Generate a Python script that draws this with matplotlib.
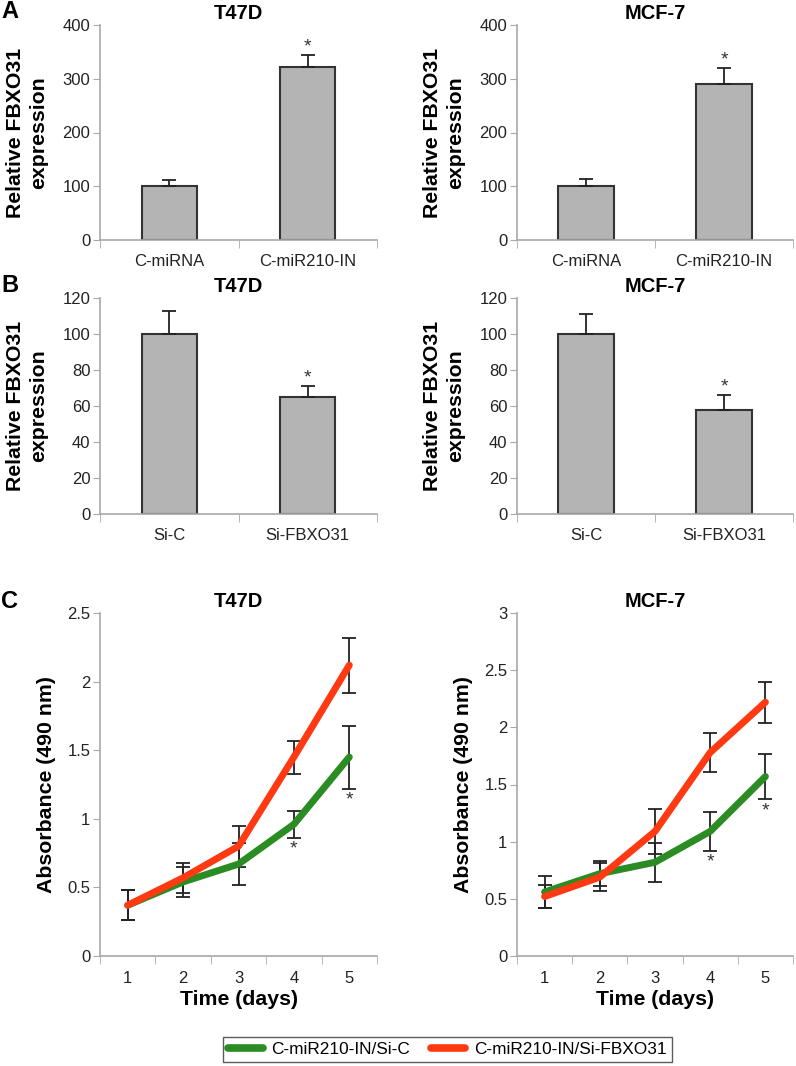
import matplotlib
matplotlib.use("Agg")
import matplotlib.pyplot as plt
from matplotlib.lines import Line2D

plt.rcParams['font.family'] = ['Liberation Sans', 'DejaVu Sans']

W, H = 796, 1066

# ---------- data ----------
cell_lines = ["T47D", "MCF-7"]

a_categories = ["C-miRNA", "C-miR210-IN"]
a_values_t47d = [100, 322]
a_err_t47d = [12, 22]
a_values_mcf7 = [100, 290]
a_err_mcf7 = [14, 30]

b_categories = ["Si-C", "Si-FBXO31"]
b_values_t47d = [100, 65]
b_err_t47d = [13, 6]
b_values_mcf7 = [100, 58]
b_err_mcf7 = [11, 8]

days = [1, 2, 3, 4, 5]
c_t47d_sic = [0.37, 0.54, 0.67, 0.96, 1.45]
c_t47d_sic_err = [0.11, 0.11, 0.15, 0.10, 0.23]
c_t47d_sif = [0.37, 0.57, 0.80, 1.45, 2.12]
c_t47d_sif_err = [0.11, 0.11, 0.15, 0.12, 0.20]
c_mcf7_sic = [0.56, 0.72, 0.82, 1.09, 1.57]
c_mcf7_sic_err = [0.14, 0.11, 0.17, 0.17, 0.20]
c_mcf7_sif = [0.52, 0.69, 1.09, 1.78, 2.22]
c_mcf7_sif_err = [0.10, 0.12, 0.20, 0.17, 0.18]

series_labels = ["C-miR210-IN/Si-C", "C-miR210-IN/Si-FBXO31"]
green = "#2a8c22"
red = "#ff3a12"

spine_col = "#a8a8a8"
bar_col = "#b4b4b4"
err_col = "#222222"

TICK_FS = 12
TITLE_FS = 14.5
LABEL_FS = 15.3
STAR_FS = 14

fig = plt.figure(figsize=(W / 100, H / 100), dpi=100)


def rect(left, top, right, bottom):
    return [left / W, 1 - bottom / H, (right - left) / W, (bottom - top) / H]


def style_axes(ax):
    for s in ["top", "right"]:
        ax.spines[s].set_visible(False)
    for s in ["left", "bottom"]:
        ax.spines[s].set_color(spine_col)
        ax.spines[s].set_linewidth(1.2)
    ax.tick_params(axis="y", which="both", length=5, color=spine_col,
                   labelsize=TICK_FS, labelcolor="#222222", pad=2)


def bar_panel(ax, cats, vals, errs, title, ylim, yticks):
    style_axes(ax)
    xs = [0.5 + i for i in range(len(cats))]
    ax.bar(xs, vals, width=0.4, color=bar_col, edgecolor="#333333",
           linewidth=1.5, zorder=2)
    ax.errorbar(xs, vals, yerr=[[0] * len(errs), errs], fmt="none",
                ecolor=err_col, elinewidth=1.3, capsize=5, capthick=1.3,
                zorder=3)
    ax.set_xlim(0, len(cats))
    ax.set_ylim(*ylim)
    ax.set_yticks(yticks)
    ax.set_xticks(xs)
    ax.set_xticklabels(cats)
    ax.set_xticks(range(len(cats) + 1), minor=True)
    ax.tick_params(axis="x", which="major", length=0, labelsize=TICK_FS,
                   labelcolor="#222222", pad=10)
    ax.tick_params(axis="x", which="minor", length=6, color=spine_col)
    ax.set_title(title, fontsize=TITLE_FS, fontweight="bold", pad=4)
    ax.set_ylabel("Relative FBXO31\nexpression", fontsize=LABEL_FS,
                  fontweight="bold", labelpad=10, linespacing=1.3)
    ax.annotate("*", xy=(xs[1], vals[1] + errs[1]), xytext=(0, 0),
                textcoords="offset points", ha="center", va="bottom",
                fontsize=STAR_FS, color="#333333")


def line_panel(ax, sic, sic_err, sif, sif_err, title, ylim, yticks, yticklabels):
    style_axes(ax)
    ax.errorbar(days, sic, yerr=sic_err, fmt="none", ecolor=err_col,
                elinewidth=1.3, capsize=5, capthick=1.3, zorder=2)
    ax.errorbar(days, sif, yerr=sif_err, fmt="none", ecolor=err_col,
                elinewidth=1.3, capsize=5, capthick=1.3, zorder=2)
    ax.plot(days, sic, color=green, lw=5, solid_capstyle="round",
            solid_joinstyle="round", zorder=3)
    ax.plot(days, sif, color=red, lw=5, solid_capstyle="round",
            solid_joinstyle="round", zorder=4)
    ax.set_xlim(0.5, 5.5)
    ax.set_ylim(*ylim)
    ax.set_yticks(yticks)
    ax.set_yticklabels(yticklabels)
    ax.set_xticks(days)
    ax.set_xticks([d + 0.5 for d in [0] + days], minor=True)
    ax.tick_params(axis="x", which="major", length=0, labelsize=TICK_FS,
                   labelcolor="#222222", pad=11)
    ax.tick_params(axis="x", which="minor", length=6, color=spine_col)
    ax.set_title(title, fontsize=TITLE_FS, fontweight="bold", pad=4)
    ax.set_ylabel("Absorbance (490 nm)", fontsize=LABEL_FS, fontweight="bold",
                  labelpad=8)
    ax.set_xlabel("Time (days)", fontsize=LABEL_FS, fontweight="bold",
                  labelpad=3)
    for i in [3, 4]:
        ax.annotate("*", xy=(days[i], sic[i] - sic_err[i]), xytext=(0, -2),
                    textcoords="offset points", ha="center", va="top",
                    fontsize=STAR_FS, color="#333333")


# Panel A
axA1 = fig.add_axes(rect(100, 25, 377, 240))
bar_panel(axA1, a_categories, a_values_t47d, a_err_t47d, cell_lines[0],
          (0, 400), [0, 100, 200, 300, 400])
axA2 = fig.add_axes(rect(517, 25, 793, 240))
bar_panel(axA2, a_categories, a_values_mcf7, a_err_mcf7, cell_lines[1],
          (0, 400), [0, 100, 200, 300, 400])

# Panel B
axB1 = fig.add_axes(rect(100, 298, 377, 514))
bar_panel(axB1, b_categories, b_values_t47d, b_err_t47d, cell_lines[0],
          (0, 120), [0, 20, 40, 60, 80, 100, 120])
axB2 = fig.add_axes(rect(517, 298, 793, 514))
bar_panel(axB2, b_categories, b_values_mcf7, b_err_mcf7, cell_lines[1],
          (0, 120), [0, 20, 40, 60, 80, 100, 120])

# Panel C
axC1 = fig.add_axes(rect(100, 613, 377, 956))
line_panel(axC1, c_t47d_sic, c_t47d_sic_err, c_t47d_sif, c_t47d_sif_err,
           cell_lines[0], (0, 2.5), [0, 0.5, 1, 1.5, 2, 2.5],
           ["0", "0.5", "1", "1.5", "2", "2.5"])
axC2 = fig.add_axes(rect(517, 613, 793, 956))
line_panel(axC2, c_mcf7_sic, c_mcf7_sic_err, c_mcf7_sif, c_mcf7_sif_err,
           cell_lines[1], (0, 3), [0, 0.5, 1, 1.5, 2, 2.5, 3],
           ["0", "0.5", "1", "1.5", "2", "2.5", "3"])

# Panel letters
for letter, ypix in [("A", 12), ("B", 286), ("C", 601)]:
    fig.text(1 / W, 1 - ypix / H, letter, fontsize=17, fontweight="bold",
             va="center", ha="left")

# Legend
handles = [Line2D([0], [0], color=green, lw=5.5, solid_capstyle="round"),
           Line2D([0], [0], color=red, lw=5.5, solid_capstyle="round")]
leg = fig.legend(handles, series_labels, loc="center",
                 bbox_to_anchor=(447.5 / W, 1 - 1049.5 / H), ncol=2,
                 fontsize=12.4, frameon=True, fancybox=False,
                 edgecolor="#333333", handlelength=2.0, columnspacing=1.2,
                 borderpad=0.3, handletextpad=0.5, borderaxespad=0)
leg.get_frame().set_linewidth(1.0)

fig.savefig("out.png", dpi=100)
